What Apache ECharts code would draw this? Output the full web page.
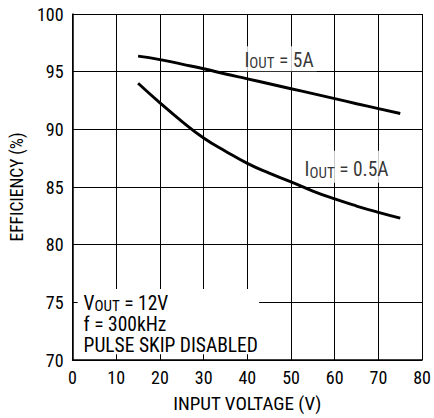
<!DOCTYPE html>
<html>
<head>
<meta charset="utf-8">
<script src="https://cdn.jsdelivr.net/npm/echarts@6/dist/echarts.min.js"></script>
<style>
html,body{margin:0;padding:0;background:#fff;}
#c{width:434px;height:418px;}
</style>
</head>
<body>
<div id="c"></div>
<script>
var FONT = "'Roboto Condensed', 'Liberation Sans Narrow', 'Liberation Sans', Arial, sans-serif";
var xValues = [15, 20, 25, 30, 35, 40, 45, 50, 55, 60, 65, 70, 75];
var eff5A   = [96.35, 96.05, 95.65, 95.25, 94.8, 94.38, 93.95, 93.52, 93.1, 92.66, 92.22, 91.8, 91.37];
var eff05A  = [94.0, 92.3, 90.7, 89.25, 88.1, 87.05, 86.2, 85.45, 84.65, 83.96, 83.35, 82.8, 82.3];
var xTicks = [0, 10, 20, 30, 40, 50, 60, 70, 80];
var yTicks = [70, 75, 80, 85, 90, 95, 100];
var label5A = '{m|I}{s|OUT}{m| = 5A}';
var label05A = '{m|I}{s|OUT}{m| = 0.5A}';
var noteText = '{m|V}{s|OUT}{m| = 12V}\n{m|f = 300kHz}\n{m|PULSE SKIP DISABLED}';

function pairs(xs, ys) { return xs.map(function (x, i) { return [x, ys[i]]; }); }

var rich = {
  m: { fontFamily: FONT, fontSize: 19.5, lineHeight: 21, color: '#000' },
  s: { fontFamily: FONT, fontSize: 15, lineHeight: 10, verticalAlign: 'bottom', color: '#000' }
};
var richZ = {
  m: { fontFamily: FONT, fontSize: 19.5, lineHeight: 21, fill: '#000' },
  s: { fontFamily: FONT, fontSize: 15, lineHeight: 10, verticalAlign: 'bottom', fill: '#000' }
};

var chart = echarts.init(document.getElementById('c'), null, { renderer: 'svg' });
chart.setOption({
  animation: false,
  backgroundColor: '#fff',
  grid: { left: 72, right: 10, top: 14, bottom: 53 },
  xAxis: {
    type: 'value', min: xTicks[0], max: xTicks[xTicks.length - 1], interval: 10,
    name: 'INPUT VOLTAGE (V)', nameLocation: 'middle', nameGap: 34,
    nameTextStyle: { fontFamily: FONT, fontSize: 19, color: '#000' },
    axisLine: { show: true, lineStyle: { color: '#000', width: 1.5 } },
    axisTick: { show: true, inside: true, length: 6, lineStyle: { color: '#000', width: 1 } },
    axisLabel: { fontFamily: FONT, fontSize: 18, color: '#000', margin: 8 },
    splitLine: { show: true, lineStyle: { color: '#000', width: 1 } }
  },
  yAxis: {
    type: 'value', min: yTicks[0], max: yTicks[yTicks.length - 1], interval: 5,
    name: 'EFFICIENCY (%)', nameLocation: 'middle', nameGap: 46,
    nameTextStyle: { fontFamily: FONT, fontSize: 17.5, color: '#000' },
    axisLine: { show: true, lineStyle: { color: '#000', width: 1.5 } },
    axisTick: { show: true, inside: true, length: 6, lineStyle: { color: '#000', width: 1 } },
    axisLabel: { fontFamily: FONT, fontSize: 18, color: '#000', margin: 9 },
    splitLine: { show: true, lineStyle: { color: '#000', width: 1 } }
  },
  series: [
    {
      type: 'line', name: 'IOUT = 5A', data: pairs(xValues, eff5A), smooth: true,
      showSymbol: false, lineStyle: { color: '#000', width: 2.9 }, z: 3
    },
    {
      type: 'line', name: 'IOUT = 0.5A', data: pairs(xValues, eff05A), smooth: true,
      showSymbol: false, lineStyle: { color: '#000', width: 2.9 }, z: 3
    },
    {
      type: 'scatter', silent: true, symbolSize: 0, z: 5,
      data: [
        { value: [46.8, 96.11], label: { formatter: label5A, padding: [3.5, 3, 0.5, 7] } },
        { value: [62.6, 86.75], label: { formatter: label05A, padding: [8.5, 3, 2.5, 4] } }
      ],
      label: {
        show: true, position: 'inside', align: 'center', verticalAlign: 'middle',
        backgroundColor: '#fff', rich: rich
      }
    }
  ]
});

try {
  var p0 = chart.convertToPixel({ gridIndex: 0 }, [1.15, 76.15]);
  var p1 = chart.convertToPixel({ gridIndex: 0 }, [42.7, 70.5]);
  chart.setOption({
    graphic: [{
      type: 'group', x: p0[0], y: p0[1], silent: true, z: 100,
      children: [
        { type: 'rect', z: 100, shape: { x: 0, y: 0, width: p1[0] - p0[0], height: p1[1] - p0[1] }, style: { fill: '#fff' } },
        { type: 'text', z: 101, x: 6, y: 3.5, style: { text: noteText, rich: richZ, fill: '#000', fontFamily: FONT, fontSize: 19.5, align: 'left', verticalAlign: 'top' } }
      ]
    }]
  });
} catch (e) {}
</script>
</body>
</html>
